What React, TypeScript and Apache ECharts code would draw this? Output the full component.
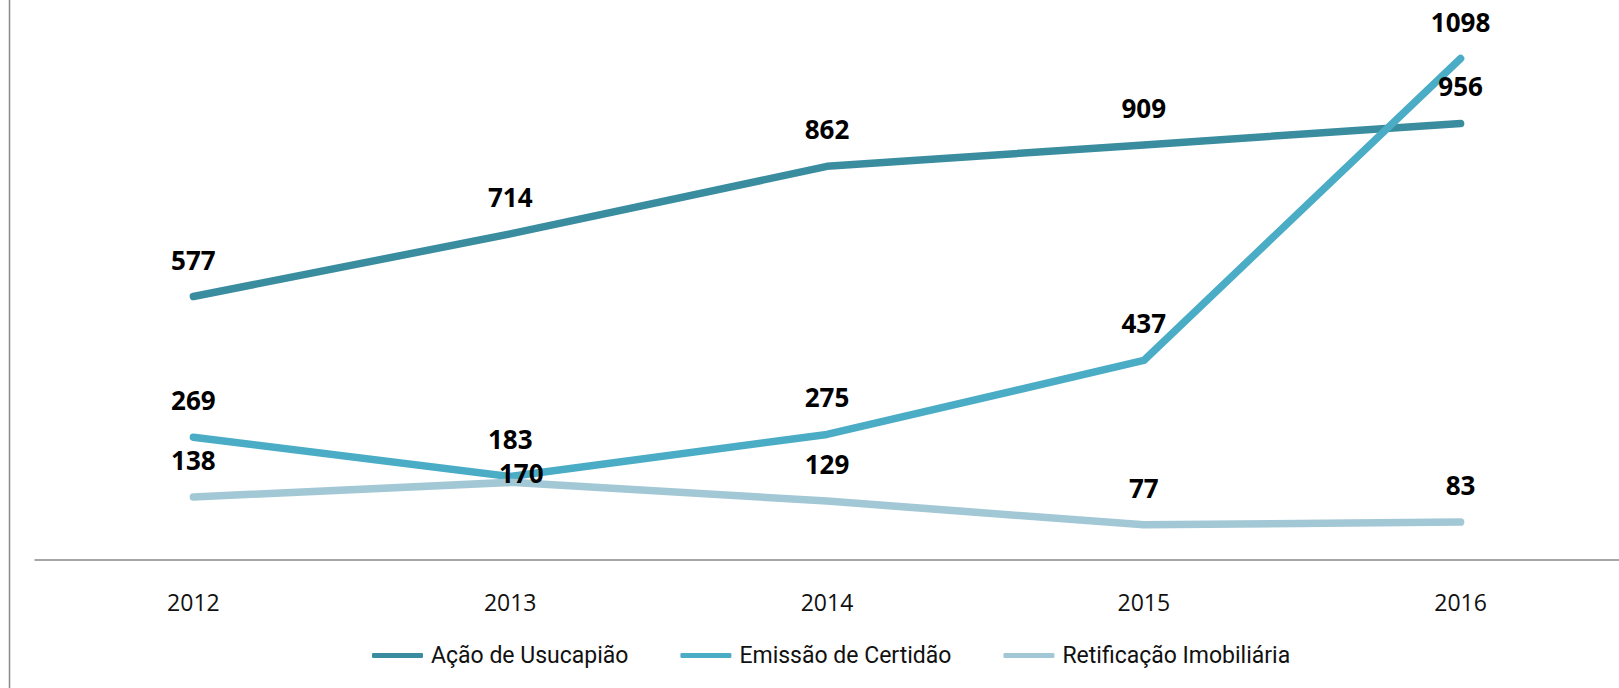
import React, { useEffect, useRef } from "react";
import * as echarts from "echarts";

const years = ["2012", "2013", "2014", "2015", "2016"];
const acaoUsucapiao = [577, 714, 862, 909, 956];
const emissaoCertidao = [269, 183, 275, 437, 1098];
const retificacaoImobiliaria = [138, 170, 129, 77, 83];
const seriesNames = ["Ação de Usucapião", "Emissão de Certidão", "Retificação Imobiliária"];
const colors = ["#3A8C9F", "#4BACC6", "#A3C8D5"];

export default function App() {
  const ref = useRef<HTMLDivElement>(null);
  useEffect(() => {
    document.body.style.margin = "0";
    const chart = echarts.init(ref.current!, null, { renderer: "svg" });
    const labelStyle = {
      show: true,
      position: "top" as const,
      distance: 26,
      fontFamily: "Open Sans",
      fontWeight: "bold" as const,
      fontSize: 26,
      lineHeight: 20,
      color: "#000",
    };
    const mk = (name: string, data: number[], color: string, special?: (v: number, i: number) => any) => ({
      name,
      type: "line",
      data: data.map((v, i) => (special ? special(v, i) : v)),
      symbol: "circle",
      symbolSize: 2,
      itemStyle: { color },
      lineStyle: { color, width: 7.5, cap: "round", join: "round" },
      label: labelStyle,
      z: 2,
    });
    chart.setOption({
      animation: false,
      color: colors,
      grid: { left: 35, right: 0, top: 12, bottom: 128 },
      xAxis: {
        type: "category",
        data: years,
        boundaryGap: true,
        axisLine: { show: true, lineStyle: { color: "#8a8a8a", width: 1.5 } },
        axisTick: { show: false },
        axisLabel: { margin: 30, fontFamily: "Open Sans", fontSize: 23, color: "#111" },
      },
      yAxis: {
        type: "value",
        min: 0,
        max: 1200,
        show: false,
        splitLine: { show: false },
      },
      legend: {
        left: 367,
        top: 639,
        itemWidth: 51,
        itemHeight: 5,
        itemGap: 52,
        icon: "roundRect",
        textStyle: {
          fontFamily: "Roboto",
          fontSize: 23,
          color: "#111",
          padding: [0, 0, 0, 3],
        },
        data: seriesNames,
      },
      graphic: [
        {
          type: "line",
          shape: { x1: 9.5, y1: 0, x2: 9.5, y2: 688 },
          style: { stroke: "#8a8a8a", lineWidth: 1.5 },
        },
      ],
      series: [
        mk(seriesNames[0], acaoUsucapiao, colors[0]),
        mk(seriesNames[1], emissaoCertidao, colors[1]),
        mk(seriesNames[2], retificacaoImobiliaria, colors[2], (v, i) =>
          i === 1 ? { value: v, label: { offset: [11, 28] } } : v
        ),
      ],
    });
    return () => chart.dispose();
  }, []);
  return <div ref={ref} style={{ width: 1619, height: 688 }} />;
}
